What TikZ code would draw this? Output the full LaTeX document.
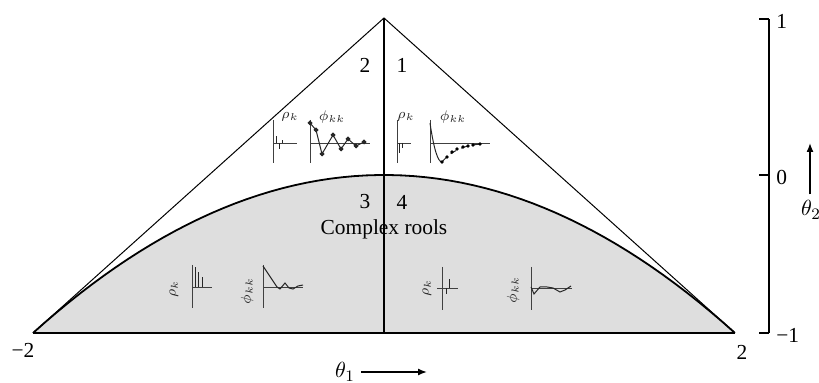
\documentclass[tikz,border=0pt]{standalone}
\usepackage{fontspec}
\setmainfont{Liberation Serif}
\usetikzlibrary{arrows.meta}

\begin{document}
\begin{tikzpicture}[x=0.5pt, y=-0.5pt, >={Latex[length=4.5pt, width=3.5pt]},
	every node/.style={font=\fontsize{10.7}{12}\selectfont, inner sep=0pt},
	miniax/.style={line width=0.35pt, black!75},
	minicv/.style={line width=0.5pt, black!85},
	minilab/.style={font=\fontsize{7}{8}\selectfont, black!85}]
	\useasboundingbox (0,0) rectangle (819,383);
	% shaded region below the parabola
	\fill[black!13] plot[domain=-1:1, samples=60] ({384+351*\x},{175+158*\x*\x}) -- cycle;
	\draw[line width=0.9pt] plot[domain=-1:1, samples=60] ({384+351*\x},{175+158*\x*\x});
	% triangle and middle line
	\coordinate (left) at (33,333);
	\coordinate (right) at (735,333);
	\coordinate (apex) at (384,18);
	\coordinate (mid) at (384,333);
	\draw[line width=0.5pt] (left) -- (apex) -- (right);
	\draw[line width=0.8pt] (left) -- (right);
	\draw[line width=0.7pt] (apex) -- (mid);
	% region numbers
	\node (r2) at (365,65) {2};
	\node (r1) at (402,65) {1};
	\node (r3) at (365,202) {3};
	\node (r4) at (402,202) {4};
	\node (cplx) at (384,229) {Complex rools};
	% region 2
	\draw[miniax] (273,120) -- (273,163);
	\draw[miniax] (273,143) -- (297,143);
	\draw[minicv] (276,143) -- (276,136) (279,143) -- (279,149) (282,143) -- (282,140);
	\node[minilab] (rho2) at (290,117) {$\rho_k$};
	\draw[miniax] (310,120) -- (310,163);
	\draw[miniax] (310,143) -- (370,143);
	\draw[minicv] plot[mark=*, mark size=0.9pt] coordinates {(310,123) (316,130) (322,154) (333,135) (341,149) (348,139) (356,146) (364,142)};
	\node[minilab] (phi2) at (332,117) {$\phi_{kk}$};
	% region 1
	\draw[miniax] (397,120) -- (397,163);
	\draw[miniax] (397,143) -- (411,143);
	\draw[minicv] (399,143) -- (399,153) (402,143) -- (402,148);
	\node[minilab] (rho1) at (406,117) {$\rho_k$};
	\draw[miniax] (430,120) -- (430,163);
	\draw[miniax] (430,143) -- (490,143);
	\draw[minicv] (430,123) .. controls (434,150) and (438,162) .. (442,162);
	\draw[minicv, dashed] (442,162) .. controls (452,150) and (465,145) .. (482,144);
	\foreach \px/\py in {442/162,447/157,452/152,457/149,463/147,468/146,473/145,480/144}
		\fill (\px,\py) circle (0.9pt);
	\node[minilab] (phi1) at (453,117) {$\phi_{kk}$};
	% region 3
	\draw[miniax] (192,265) -- (192,308);
	\draw[miniax] (192,287) -- (212,287);
	\draw[minicv] (195,287) -- (195,267) (198,287) -- (198,272) (202,287) -- (202,277);
	\node[minilab, rotate=90] (rho3) at (174,289) {$\rho_k$};
	\draw[miniax] (263,265) -- (263,308);
	\draw[miniax] (263,287) -- (303,287);
	\draw[minicv] (263,266) -- (277,287) -- (280,289) -- (285,283) -- (289,288) -- (293,289) -- (298,286) -- (303,285);
	\node[minilab, rotate=90] (phi3) at (247,291) {$\phi_{kk}$};
	% region 4
	\draw[miniax] (442,267) -- (442,310);
	\draw[miniax] (437,288) -- (458,288);
	\draw[minicv] (446,288) -- (446,294) (449,288) -- (449,279);
	\node[minilab, rotate=90] (rho4) at (427,288) {$\rho_k$};
	\draw[miniax] (531,267) -- (531,310);
	\draw[miniax] (531,288) -- (572,288);
	\draw[minicv] (531,287) -- (534,294) -- (540,287) -- (547,287) -- (553,288) -- (560,292) -- (565,290) -- (571,286);
	\node[minilab, rotate=90] (phi4) at (513,290) {$\phi_{kk}$};
	% theta_2 scale on the right
	\coordinate (ytop) at (769,19);
	\coordinate (ybot) at (769,333);
	\draw[line width=0.7pt] (ytop) -- (ybot);
	\foreach \py/\lab in {19/1,175/0,333/−1} {
		\draw[line width=0.7pt] (759,\py) -- (769,\py);
		\node[anchor=west] at (776,\py+2) {\lab};
	}
	% axis labels
	\node (m2) at (23,350) {−2};
	\node (p2) at (742,352) {2};
	\node[font=\fontsize{11}{12}\selectfont] (t1) at (345,372) {$\theta_1$};
	\coordinate (t1end) at (427,372);
	\draw[->, line width=0.7pt] ([xshift=3pt]t1.east) -- (t1end);
	\node[font=\fontsize{11}{12}\selectfont] (t2) at (811,210) {$\theta_2$};
	\coordinate (t2top) at (810,143);
	\draw[->, line width=0.7pt] ([yshift=3pt]t2.north -| t2top) -- (t2top);
\end{tikzpicture}
\end{document}
